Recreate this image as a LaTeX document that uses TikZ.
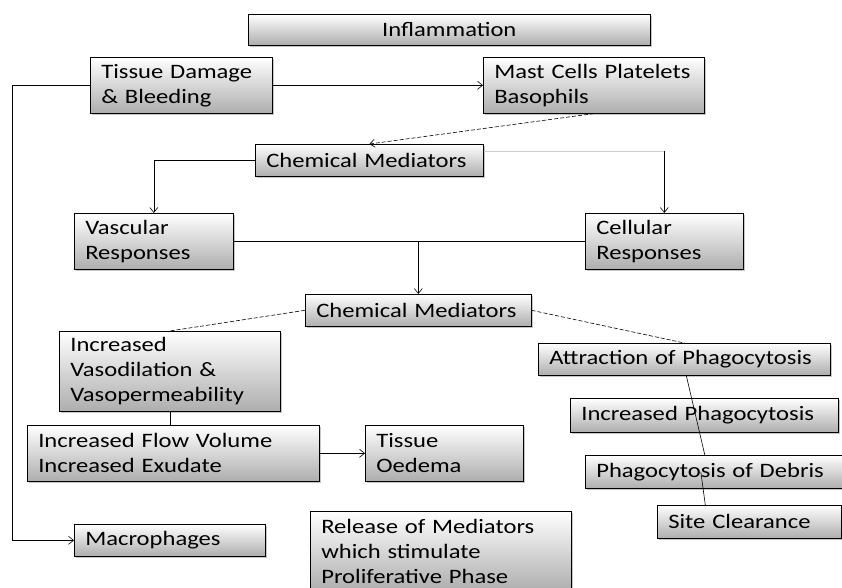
\documentclass[tikz,border=0pt]{standalone}
\usepackage{fontspec}
\setmainfont{Carlito}[FakeStretch=1.2]
\usetikzlibrary{arrows.meta,positioning,calc,shadows}

\tikzset{
  box/.style={draw=black, line width=0.6pt, anchor=north west, align=left,
    inner xsep=11pt, inner ysep=0pt, top color=white, bottom color=black!32,
    drop shadow={shadow xshift=1.5pt, shadow yshift=-1.5pt, opacity=0.45},
    font=\fontsize{20.5}{25}\selectfont},
  link/.style={line width=0.6pt},
  arr/.style={link, -{Straight Barb[length=5pt,width=8pt]}},
}

\begin{document}
\begin{tikzpicture}[x=1pt,y=-1pt]
  \clip (0,0) rectangle (842,588);

  % top row
  \node[box, align=center, text width=380pt, minimum height=31pt] (infl) at (248,14) {Inflammation};
  \node[box, text width=160pt, minimum height=56pt] (tissue) at (90,57) {Tissue Damage\\ \& Bleeding};
  \node[box, text width=199pt, minimum height=56pt] (mast) at (483,57) {Mast Cells Platelets\\ Basophils};

  % mediators and responses
  \node[box, text width=206pt, minimum height=32pt] (chem1) at (255,144) {Chemical Mediators};
  \node[box, text width=137pt, minimum height=56pt] (vasc) at (74,213) {Vascular\\ Responses};
  \node[box, text width=136pt, minimum height=56pt] (cell) at (585,213) {Cellular\\ Responses};
  \node[box, text width=204pt, minimum height=32pt] (chem2) at (305,294) {Chemical Mediators};

  % vascular branch
  \node[box, text width=199pt, minimum height=80pt] (vaso) at (59,331) {Increased\\ Vasodilation \&\\ Vasopermeability};
  \node[box, text width=270pt, minimum height=56pt] (flow) at (27,425) {Increased Flow Volume\\ Increased Exudate};
  \node[box, text width=136pt, minimum height=56pt] (oed) at (365,425) {Tissue\\ Oedema};
  \node[box, text width=169pt, minimum height=32pt] (macro) at (74,524) {Macrophages};
  \node[box, text width=239pt, minimum height=80pt] (rel) at (310,511) {Release of Mediators\\ which stimulate\\ Proliferative Phase};

  % cellular branch
  \node[box, text width=270pt, minimum height=32pt] (attr) at (538,343) {Attraction of Phagocytosis};
  \node[box, text width=246pt, minimum height=34pt] (incph) at (570,398) {Increased Phagocytosis};
  \node[box, text width=235pt, minimum height=33pt] (debris) at (585,455) {Phagocytosis of Debris};
  \node[box, text width=162pt, minimum height=33pt] (site) at (657,505) {Site Clearance};

  % connectors
  \coordinate (lft) at (12,0);
  \draw[arr] (tissue.east) -- (mast.west);
  \draw[arr] (tissue.west) -- (tissue.west -| lft) |- (macro.west);
  \draw[arr, dash pattern=on 4pt off 2pt] (mast.south) -- (chem1.north);
  \draw[arr] (chem1.west) -| (vasc.north);
  \coordinate (c1r) at ($(chem1.north east)+(0,7)$);
  \draw[link, black!20] (c1r) -- (c1r -| cell.north);
  \draw[arr] (c1r -| cell.north) -- (cell.north);
  \draw[link] (vasc.east) -- (cell.west);
  \draw[arr] (vasc.east -| chem2.north) -- (chem2.north);
  \draw[link, dash pattern=on 4pt off 2pt] (chem2.west) -- (vaso.north);
  \draw[link, dash pattern=on 4pt off 2pt] (chem2.east) -- (attr.north);
  \draw[link] (vaso.south) -- (vaso.south |- flow.north);
  \draw[arr] (flow.east) -- (oed.west);
  \draw[link] ([xshift=2pt]attr.south) -- ([xshift=-9pt]debris.north);
  \draw[link] ([xshift=-13pt]debris.center) -- ([xshift=-44pt]site.north);
\end{tikzpicture}
\end{document}
